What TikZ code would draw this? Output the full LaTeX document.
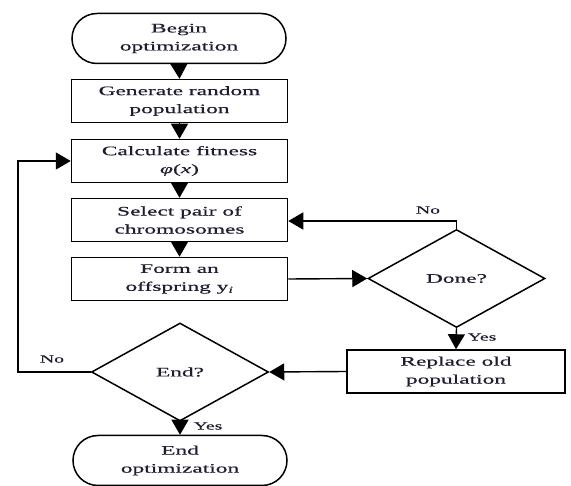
\documentclass[tikz,border=0pt]{standalone}
\usepackage{fontspec}
\setmainfont{Liberation Serif}[FakeStretch=1.8,FakeBold=0.6]
\usetikzlibrary{shapes.misc,shapes.geometric,arrows.meta}
\definecolor{txt}{HTML}{1E1E32}
\begin{document}
\begin{tikzpicture}[x=1pt,y=-1pt,
  every node/.style={text=txt},
  base/.style={draw=black,line width=1.5pt,align=center,inner sep=0pt,
    font=\fontsize{13}{18}\selectfont},
  terminal/.style={base,rounded rectangle,minimum width=214pt,minimum height=50pt},
  procbox/.style={base,rectangle,minimum width=216pt,minimum height=43pt},
  decision/.style={base,diamond,minimum width=177pt,minimum height=98pt,aspect=1.8},
  lbl/.style={font=\fontsize{11}{13}\selectfont,inner sep=0pt},
  conn/.style={draw=black,line width=1.4pt,-{Triangle[length=15pt,width=17pt]}}
]
\useasboundingbox (0,0) rectangle (571,486);
\node[terminal] (begin) at (179,38.5) {Begin\\optimization};
\node[procbox] (gen) at (179.5,101) {Generate random\\population};
\node[procbox] (calc) at (179.5,161) {Calculate fitness\\\textit{φ}(\textit{x})};
\node[procbox] (sel) at (179.5,220) {Select pair of\\chromosomes};
\node[procbox] (form) at (179.5,279) {Form an\\offspring y\textsubscript{\textit{i}}};
\node[decision] (done) at (456.5,278.5) {Done?};
\node[procbox,minimum width=218pt] (repl) at (456,371.5) {Replace old\\population};
\node[decision] (endd) at (180,372) {End?};
\node[terminal] (fin) at (180,460.5) {End\\optimization};
\coordinate (lb) at (18,372);
\coordinate (lt) at (18,161);
\coordinate (dt) at (456.5,221);

\draw[conn] (begin.south) -- (gen.north);
\draw[conn] (gen.south) -- (calc.north);
\draw[conn] (calc.south) -- (sel.north);
\draw[conn] (sel.south) -- (form.north);
\draw[conn] (form.east) -- (done.west);
\draw[conn] (done.north) -- (dt) -- (sel.east |- dt);
\draw[conn] (done.south) -- (repl.north);
\draw[conn] (repl.west) -- (endd.east);
\draw[conn] (endd.west) -- (lb) -- (lt) -- (calc.west);
\draw[conn] (endd.south) -- (fin.north);

\node[lbl] (no1) at (52,359) {No};
\node[lbl] (yes1) at (208,426) {Yes};
\node[lbl] (no2) at (428,210) {No};
\node[lbl] (yes2) at (482,337) {Yes};
\end{tikzpicture}
\end{document}
